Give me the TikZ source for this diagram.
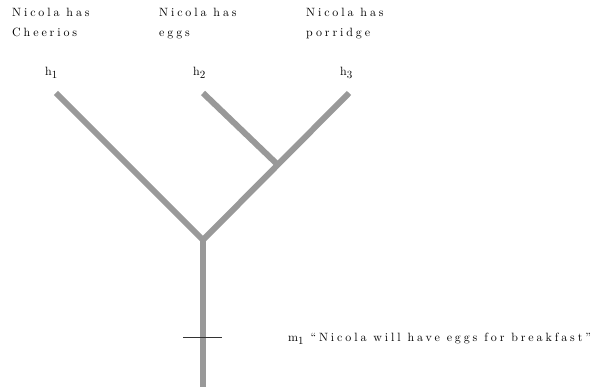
\documentclass[tikz,border=0pt]{standalone}
\usepackage{fontspec}
\usepackage{xcolor}
\usepackage{tikz}
\usetikzlibrary{positioning}
\definecolor{Branch}{HTML}{999999}
\definecolor{Tick}{HTML}{333333}
\definecolor{Ink}{HTML}{000000}
\newfontfamily\spacedfont{lmroman10-regular.otf}[Ligatures=TeX,LetterSpace=24]
\newcommand{\spaced}{\spacedfont\fontsize{12}{20}\selectfont}
\newcommand{\sub}[1]{\raisebox{-3pt}{\fontsize{11}{12}\selectfont#1}}

\begin{document}
\begin{tikzpicture}[x=1pt,y=-1pt,
  branch/.style={Branch,line width=6pt},
  label/.style={Ink,inner sep=0pt,font=\spaced,align=left}]
  \useasboundingbox (0,0) rectangle (606,387);
  % hypotheses
  \node[label,anchor=north west] (t1) at (12,8) {Nicola has\\Cheerios};
  \node[label,anchor=north west] (t2) at (159,8) {Nicola has\\eggs};
  \node[label,anchor=north west] (t3) at (306,8) {Nicola has\\porridge};
  \node[label,anchor=base west] (h1) at (45,76) {h\sub{1}};
  \node[label,anchor=base west] (h2) at (193,76) {h\sub{2}};
  \node[label,anchor=base west] (h3) at (340,76) {h\sub{3}};
  % tree
  \coordinate (l1) at (56,93);
  \coordinate (l2) at (203,93);
  \coordinate (l3) at (349,93);
  \coordinate (mid) at (278,165);
  \coordinate (root) at (203,240);
  \coordinate (foot) at (203,387);
  \draw[branch] (l1) -- (root) -- (l3);
  \draw[branch] (l2) -- (mid);
  \draw[branch] (root) -- (foot);
  % message
  \coordinate (m) at (203,338);
  \draw[Tick,line width=1pt] ([xshift=-20pt]m) -- ([xshift=19pt]m);
  \node[label,anchor=base west] (m1) at (288,342) {m\sub{1} ``Nicola will have eggs for breakfast"};
\end{tikzpicture}
\end{document}
